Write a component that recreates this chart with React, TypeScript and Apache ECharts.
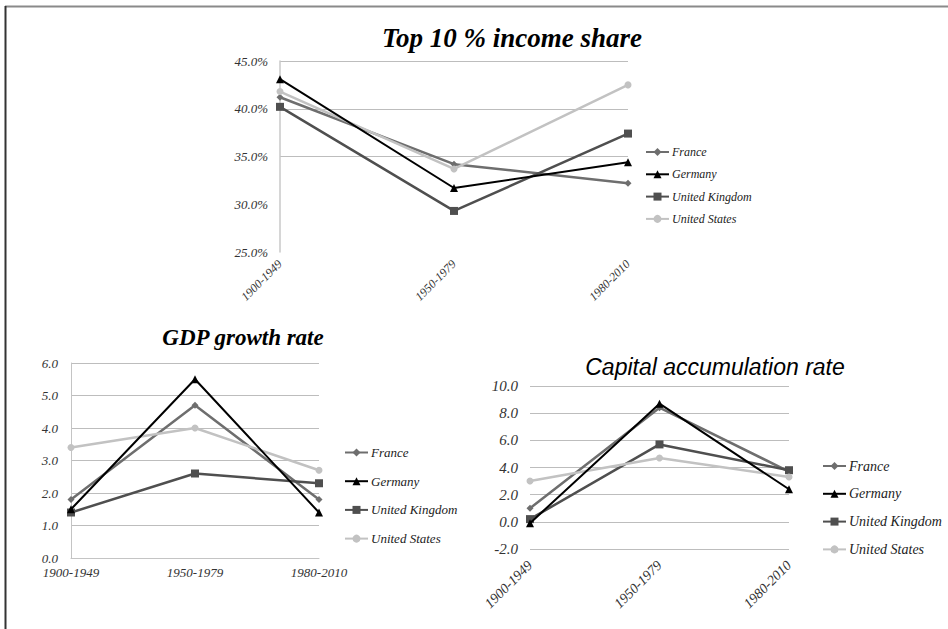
import React, { useEffect, useRef } from 'react';
import * as echarts from 'echarts';

const categories = ['1900-1949', '1950-1979', '1980-2010'];
const countries = ['France', 'Germany', 'United Kingdom', 'United States'];

// Top 10 % income share (%)
const incomeFrance = [41.2, 34.2, 32.2];
const incomeGermany = [43.1, 31.7, 34.4];
const incomeUK = [40.2, 29.3, 37.4];
const incomeUS = [41.8, 33.7, 42.5];

// GDP growth rate
const gdpFrance = [1.8, 4.7, 1.8];
const gdpGermany = [1.5, 5.5, 1.4];
const gdpUK = [1.4, 2.6, 2.3];
const gdpUS = [3.4, 4.0, 2.7];

// Capital accumulation rate
const capFrance = [1.0, 8.4, 3.7];
const capGermany = [-0.1, 8.7, 2.4];
const capUK = [0.2, 5.7, 3.8];
const capUS = [3.0, 4.7, 3.3];

const colors = ['#6e6e6e', '#000000', '#4f4f4f', '#c2c2c2'];
const symbols = ['diamond', 'triangle', 'rect', 'circle'];
const symbolSizes = [7, 8, 8, 7];
const lineWidths = [2.5, 2, 2.5, 2.5];

const serif = 'Liberation Serif';

export default function App() {
  const ref = useRef<HTMLDivElement>(null);
  useEffect(() => {
    if (!ref.current) return;
    const chart = echarts.init(ref.current, undefined, { renderer: 'svg' });
    const groups = [
      [incomeFrance, incomeGermany, incomeUK, incomeUS],
      [gdpFrance, gdpGermany, gdpUK, gdpUS],
      [capFrance, capGermany, capUK, capUS],
    ];
    const series: any[] = [];
    groups.forEach((g, gi) => {
      g.forEach((data, ci) => {
        series.push({
          type: 'line',
          name: countries[ci],
          xAxisIndex: gi,
          yAxisIndex: gi,
          data,
          symbol: symbols[ci],
          symbolSize: symbolSizes[ci],
          showAllSymbol: true,
          lineStyle: { color: colors[ci], width: lineWidths[ci] },
          itemStyle: { color: colors[ci] },
          z: ci === 1 ? 4 : 3,
        });
      });
    });
    const labelStyle = (size: number) => ({
      fontFamily: serif,
      fontStyle: 'italic',
      fontSize: size,
      color: '#333',
    });
    const legendBase = (left: number, top: number, gap: number, size: number) => ({
      orient: 'vertical',
      left,
      top,
      padding: 0,
      itemWidth: 23,
      itemHeight: 10,
      itemGap: gap,
      data: countries,
      selectedMode: false,
      textStyle: { ...labelStyle(size), color: '#222', padding: [0, 0, 0, -2] },
    });
    chart.setOption({
      animation: false,
      backgroundColor: '#ffffff',
      grid: [
        { left: 280, right: 948 - 628, top: 61, height: 191 },
        { left: 71, right: 948 - 319, top: 363, height: 195 },
        { left: 530, right: 948 - 789, top: 386, height: 163 },
      ],
      xAxis: [
        {
          gridIndex: 0,
          type: 'category',
          data: categories,
          boundaryGap: false,
          axisLine: { show: false },
          axisTick: { show: false },
          axisLabel: { ...labelStyle(12), rotate: 45, margin: 10 },
        },
        {
          gridIndex: 1,
          type: 'category',
          data: categories,
          boundaryGap: false,
          axisLine: { show: true, lineStyle: { color: '#c4c4c4', width: 1 } },
          axisTick: { show: false },
          axisLabel: { ...labelStyle(13), margin: 8, showMaxLabel: true, showMinLabel: true },
        },
        {
          gridIndex: 2,
          type: 'category',
          data: categories,
          boundaryGap: false,
          axisLine: { show: false },
          axisTick: { show: false },
          axisLabel: { ...labelStyle(14), rotate: 45, margin: 14 },
        },
      ],
      yAxis: [
        {
          gridIndex: 0,
          type: 'value',
          min: 25,
          max: 45,
          interval: 5,
          axisLine: { show: true, lineStyle: { color: '#c8c8c8', width: 1.5 } },
          axisTick: { show: false },
          axisLabel: {
            ...labelStyle(13),
            margin: 12,
            formatter: (v: number) => v.toFixed(1) + '%',
          },
          splitLine: {
            show: true,
            lineStyle: {
              color: ['rgba(0,0,0,0)', 'rgba(0,0,0,0)', '#bdbdbd', '#bdbdbd', '#bdbdbd'],
              width: 1,
            },
          },
        },
        {
          gridIndex: 1,
          type: 'value',
          min: 0,
          max: 6,
          interval: 1,
          axisLine: { show: true, lineStyle: { color: '#c4c4c4', width: 1 } },
          axisTick: { show: false },
          axisLabel: { ...labelStyle(13), margin: 13, formatter: (v: number) => v.toFixed(1) },
          splitLine: { show: true, lineStyle: { color: '#bdbdbd', width: 1 } },
        },
        {
          gridIndex: 2,
          type: 'value',
          min: -2,
          max: 10,
          interval: 2,
          axisLine: { show: false },
          axisTick: { show: false },
          axisLabel: { ...labelStyle(15), margin: 12, formatter: (v: number) => v.toFixed(1) },
          splitLine: { show: true, lineStyle: { color: '#bdbdbd', width: 1 } },
        },
      ],
      legend: [
        legendBase(645, 146, 10.3, 12),
        legendBase(344, 446, 15.7, 13),
        legendBase(822, 459, 13.8, 14),
      ],
      graphic: [
        {
          type: 'line',
          shape: { x1: 5, y1: 6.5, x2: 948, y2: 6.5 },
          style: { stroke: '#8a8a8a', lineWidth: 2 },
        },
        {
          type: 'line',
          shape: { x1: 5.5, y1: 6, x2: 5.5, y2: 629 },
          style: { stroke: '#333333', lineWidth: 2 },
        },
        {
          type: 'text',
          x: 512,
          y: 38,
          style: {
            text: 'Top 10 % income share',
            textAlign: 'center',
            textVerticalAlign: 'middle',
            fontFamily: serif,
            fontStyle: 'italic',
            fontWeight: 'bold',
            fontSize: 27,
            fill: '#000',
          },
        },
        {
          type: 'text',
          x: 243,
          y: 337,
          style: {
            text: 'GDP growth rate',
            textAlign: 'center',
            textVerticalAlign: 'middle',
            fontFamily: serif,
            fontStyle: 'italic',
            fontWeight: 'bold',
            fontSize: 23,
            fill: '#000',
          },
        },
        {
          type: 'text',
          x: 715,
          y: 367,
          style: {
            text: 'Capital accumulation rate',
            textAlign: 'center',
            textVerticalAlign: 'middle',
            fontFamily: 'Liberation Sans',
            fontStyle: 'italic',
            fontSize: 23,
            fill: '#000',
          },
        },
      ],
      series,
    });
    return () => chart.dispose();
  }, []);
  return (
    <div
      ref={ref}
      style={{ position: 'absolute', left: 0, top: 0, width: 948, height: 629 }}
    />
  );
}
